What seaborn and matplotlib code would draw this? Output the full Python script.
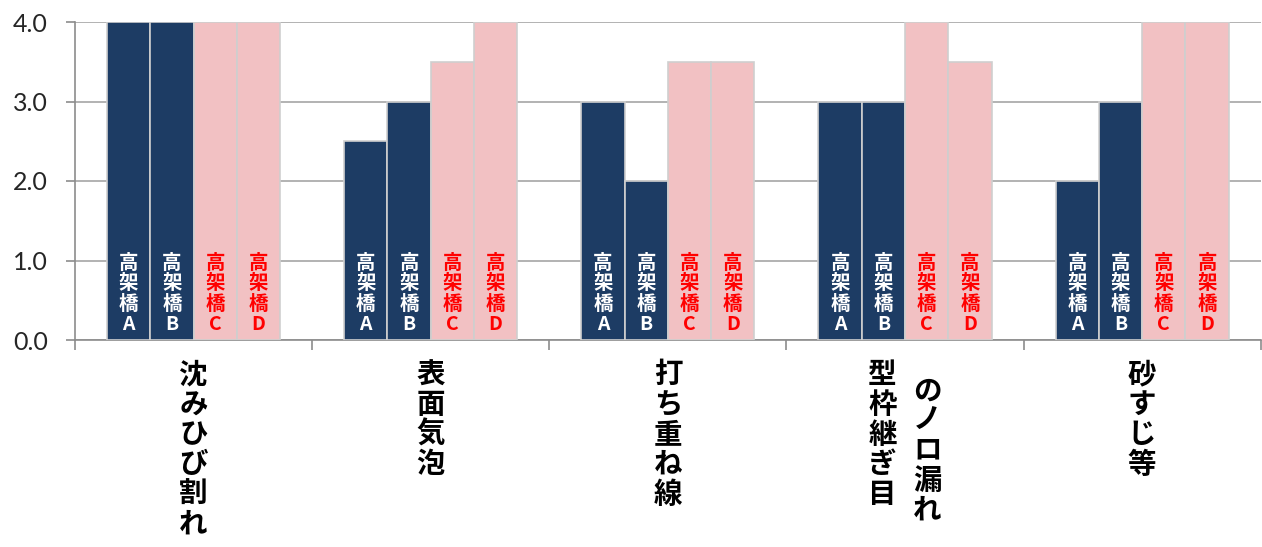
import matplotlib
matplotlib.use("Agg")
import matplotlib.pyplot as plt
import seaborn as sns
import pandas as pd

categories = ["沈みひび割れ", "表面気泡", "打ち重ね線", "型枠継ぎ目のノロ漏れ", "砂すじ等"]
label_columns = [["沈みひび割れ"], ["表面気泡"], ["打ち重ね線"], ["型枠継ぎ目", "のノロ漏れ"], ["砂すじ等"]]
bridges = ["高架橋A", "高架橋B", "高架橋C", "高架橋D"]
vals_A = [4.0, 2.5, 3.0, 3.0, 2.0]
vals_B = [4.0, 3.0, 2.0, 3.0, 3.0]
vals_C = [4.0, 3.5, 3.5, 4.0, 4.0]
vals_D = [4.0, 4.0, 3.5, 3.5, 4.0]
yticks = [0.0, 1.0, 2.0, 3.0, 4.0]

series = {"高架橋A": vals_A, "高架橋B": vals_B, "高架橋C": vals_C, "高架橋D": vals_D}
rows = []
for b in bridges:
    for c, v in zip(categories, series[b]):
        rows.append({"cat": c, "bridge": b, "val": v})
df = pd.DataFrame(rows)

sns.set_theme(style="white")
plt.rcParams["font.family"] = ["Noto Sans CJK JP", "DejaVu Sans"]

navy = "#1D3C64"
pink = "#F2C1C3"
palette = {"高架橋A": navy, "高架橋B": navy, "高架橋C": pink, "高架橋D": pink}
textcol = {"高架橋A": "white", "高架橋B": "white", "高架橋C": "#FF0000", "高架橋D": "#FF0000"}

fig = plt.figure(figsize=(12.62, 5.47), dpi=100)
ax = fig.add_axes([75 / 1262, 1 - 340 / 547, 1 - 75 / 1262 - 0.001, (340 - 22) / 547])

sns.barplot(data=df, x="cat", y="val", hue="bridge", order=categories, hue_order=bridges,
            palette=palette, saturation=1, width=0.73, gap=0.0, edgecolor="#cfcfcf",
            linewidth=1.2, legend=False, ax=ax, zorder=3)

ax.set_xlim(-0.5, len(categories) - 0.5)
ax.set_ylim(0, 4.0)
ax.set_yticks(yticks)
ax.set_yticklabels([f"{t:.1f}" for t in yticks], fontsize=18, family=["Lato", "DejaVu Sans"])
ax.set_xticks([i - 0.5 for i in range(len(categories) + 1)])
ax.set_xticklabels([])
ax.set_xlabel("")
ax.set_ylabel("")
ax.yaxis.grid(True, color="#a6a6a6", linewidth=1.2, zorder=0)
ax.xaxis.grid(False)
for s in ["top", "right"]:
    ax.spines[s].set_visible(False)
for s in ["left", "bottom"]:
    ax.spines[s].set_color("#8c8c8c")
    ax.spines[s].set_linewidth(1.2)
ax.tick_params(axis="y", length=6.5, color="#8c8c8c", width=1.2, left=True, pad=13)
ax.tick_params(axis="x", length=7, color="#8c8c8c", width=1.2, bottom=True)

# labels inside bars
for container, b in zip(ax.containers, bridges):
    for patch in container:
        xc = patch.get_x() + patch.get_width() / 2
        txt = "\n".join(list(b))
        ax.text(xc, 0.07, txt, ha="center", va="bottom", fontsize=14, fontweight="bold",
                color=textcol[b], linespacing=1.1, zorder=5,
                family=["Noto Sans CJK JP", "DejaVu Sans"])

# category labels (vertical)
for i, cols in enumerate(label_columns):
    n = len(cols)
    offsets = [0.0] if n == 1 else [-0.095, 0.095]
    tops = [-0.27] if n == 1 else [-0.27, -0.47]
    for col, off, top in zip(cols, offsets, tops):
        ax.text(i + off, top, "\n".join(list(col)), ha="center", va="top", fontsize=20.5,
                fontweight="bold", color="black", linespacing=1.08, clip_on=False)

fig.savefig("out.png", dpi=100)
